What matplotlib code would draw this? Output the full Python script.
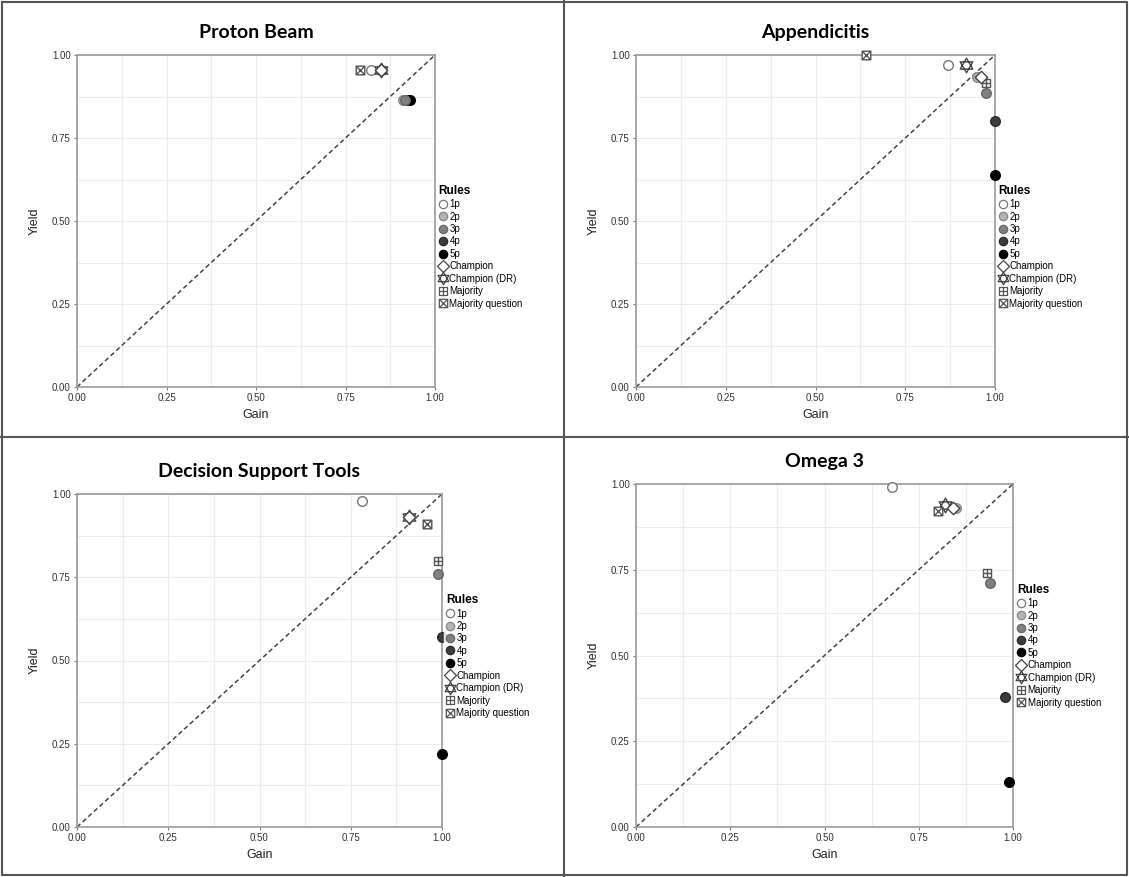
import matplotlib
matplotlib.use('Agg')
import matplotlib.pyplot as plt
from matplotlib.path import Path
from matplotlib.lines import Line2D

plt.rcParams['font.family'] = ['Liberation Sans', 'DejaVu Sans']

# rule order used in every panel
rules = ['1p', '2p', '3p', '4p', '5p', 'Champion', 'Champion (DR)', 'Majority', 'Majority question']

# (gain, yield) per rule
titles = ['Proton Beam', 'Appendicitis', 'Decision Support Tools', 'Omega 3']
gain_proton = [0.82, 0.91, 0.915, 0.925, 0.93, 0.85, 0.85, 0.85, 0.79]
yield_proton = [0.955, 0.865, 0.865, 0.865, 0.865, 0.955, 0.955, 0.955, 0.955]
gain_append = [0.87, 0.95, 0.975, 1.00, 1.00, 0.96, 0.92, 0.975, 0.64]
yield_append = [0.97, 0.935, 0.885, 0.80, 0.64, 0.935, 0.97, 0.915, 1.00]
gain_dst = [0.78, 0.91, 0.99, 1.00, 1.00, 0.91, 0.91, 0.99, 0.96]
yield_dst = [0.98, 0.93, 0.76, 0.57, 0.22, 0.93, 0.93, 0.80, 0.91]
gain_omega = [0.68, 0.85, 0.94, 0.98, 0.99, 0.84, 0.82, 0.93, 0.80]
yield_omega = [0.99, 0.93, 0.71, 0.38, 0.13, 0.93, 0.94, 0.74, 0.92]

ticks = [0.0, 0.25, 0.5, 0.75, 1.0]
tick_labels = ['0.00', '0.25', '0.50', '0.75', '1.00']


def star_path():
    v = [(0, 1), (-0.866, -0.5), (0.866, -0.5), (0, 1),
         (0, -1), (0.866, 0.5), (-0.866, 0.5), (0, -1)]
    c = [Path.MOVETO, Path.LINETO, Path.LINETO, Path.CLOSEPOLY] * 2
    return Path(v, c)


def box_path(cross):
    v = [(-1, -1), (1, -1), (1, 1), (-1, 1), (-1, -1)]
    c = [Path.MOVETO, Path.LINETO, Path.LINETO, Path.LINETO, Path.CLOSEPOLY]
    if cross:
        v += [(-1, -1), (1, 1), (-1, 1), (1, -1)]
    else:
        v += [(0, -1), (0, 1), (-1, 0), (1, 0)]
    c += [Path.MOVETO, Path.LINETO, Path.MOVETO, Path.LINETO]
    return Path(v, c)


styles = [
    dict(marker='o', fc='white', ec='#777777', s=48),
    dict(marker='o', fc='#b4b4b4', ec='#888888', s=48),
    dict(marker='o', fc='#808080', ec='#666666', s=48),
    dict(marker='o', fc='#3c3c3c', ec='#2a2a2a', s=48),
    dict(marker='o', fc='black', ec='black', s=48),
    dict(marker='D', fc='white', ec='#444444', s=40),
    dict(marker=star_path(), fc='white', ec='#444444', s=110),
    dict(marker=box_path(False), fc='white', ec='#555555', s=38),
    dict(marker=box_path(True), fc='white', ec='#555555', s=38),
]

W, H = 1129, 877
fig = plt.figure(figsize=(W / 100, H / 100), dpi=100)

# axes boxes in pixels: left, right, top, bottom
boxes = [(77, 435, 55, 387), (636, 995, 55, 387), (77, 442, 494, 827), (636, 1013, 484, 827)]
legend_top = [0.615, 0.615, 0.705, 0.715]
data = [(gain_proton, yield_proton), (gain_append, yield_append),
        (gain_dst, yield_dst), (gain_omega, yield_omega)]

for i in range(4):
    l, r, t, b = boxes[i]
    ax = fig.add_axes([l / W, (H - b) / H, (r - l) / W, (b - t) / H])
    ax.set_xlim(0, 1)
    ax.set_ylim(0, 1)
    ax.set_xticks(ticks)
    ax.set_xticklabels(tick_labels)
    ax.set_yticks(ticks)
    ax.set_yticklabels(tick_labels)
    ax.set_xticks([0.125, 0.375, 0.625, 0.875], minor=True)
    ax.set_yticks([0.125, 0.375, 0.625, 0.875], minor=True)
    ax.grid(True, which='both', color='#ececec', lw=0.8)
    ax.set_axisbelow(True)
    ax.tick_params(which='major', labelsize=7, length=2.5, color='#777777', labelcolor='#333333', pad=2)
    ax.tick_params(which='minor', length=0)
    for sp in ax.spines.values():
        sp.set_color('#9a9a9a')
        sp.set_linewidth(1.2)
    ax.plot([0, 1], [0, 1], ls='--', color='#444444', lw=1.1, dashes=(3, 2))
    ax.set_xlabel('Gain', fontsize=9, color='#222222', labelpad=4)
    ax.set_ylabel('Yield', fontsize=9, color='#222222', labelpad=8)
    ax.set_title(titles[i], fontsize=14, fontweight='bold', family='Lato', pad=12)

    gx, gy = data[i]
    for j in range(len(rules)):
        st = styles[j]
        ax.scatter(gx[j], gy[j], marker=st['marker'], s=st['s'], facecolor=st['fc'],
                   edgecolor=st['ec'], linewidth=1.0, zorder=3 + j % 3, clip_on=False)

    handles = [Line2D([], [], ls='none', marker=st['marker'],
                      markersize=6 if st['s'] < 60 else 9,
                      markerfacecolor=st['fc'], markeredgecolor=st['ec'], markeredgewidth=0.9)
               for st in styles]
    leg = ax.legend(handles, rules, title='Rules', loc='upper left', bbox_to_anchor=(1.005, legend_top[i]),
                    fontsize=7, title_fontsize=8.5, frameon=True, fancybox=False, borderaxespad=0,
                    handlelength=0.8, handletextpad=0.3, labelspacing=0.25, borderpad=0.2, edgecolor='white')
    leg.get_title().set_fontweight('bold')
    leg._legend_box.align = 'left'

# panel frame lines
frame = fig.add_axes([0, 0, 1, 1], facecolor='none')
frame.set_xlim(0, W)
frame.set_ylim(H, 0)
frame.axis('off')
frame.plot([2, W - 2, W - 2, 2, 2], [2, 2, H - 2, H - 2, 2], color='#555555', lw=1.5)
frame.plot([564, 564], [0, H], color='#555555', lw=1.5)
frame.plot([0, W], [437, 437], color='#555555', lw=1.5)

fig.savefig('out.png', dpi=100)
